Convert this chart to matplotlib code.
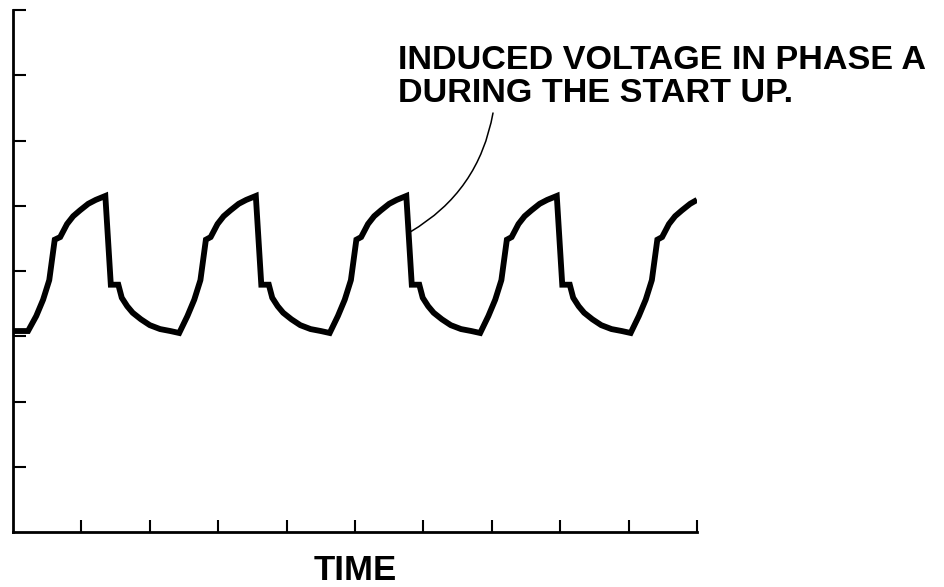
import matplotlib
matplotlib.use("Agg")
import matplotlib.pyplot as plt

# Waveform: induced voltage in phase A (time in tick units, voltage in tick units)
time = [0.00, 0.22, 0.34, 0.44, 0.53, 0.61, 0.69, 0.72, 0.79, 0.88, 0.98, 1.10, 1.21, 1.35,
        1.43, 1.54, 1.56, 1.59, 1.67, 1.75, 1.87, 2.00, 2.15, 2.30, 2.43,
        2.55, 2.65, 2.74, 2.82, 2.89, 2.92, 2.99, 3.08, 3.18, 3.30, 3.41, 3.55,
        3.63, 3.74, 3.76, 3.79, 3.87, 3.95, 4.07, 4.20, 4.35, 4.50, 4.63,
        4.75, 4.85, 4.94, 5.02, 5.09, 5.12, 5.19, 5.28, 5.38, 5.50, 5.61, 5.75,
        5.83, 5.94, 5.96, 5.99, 6.07, 6.15, 6.27, 6.40, 6.55, 6.70, 6.83,
        6.95, 7.05, 7.14, 7.22, 7.29, 7.32, 7.39, 7.48, 7.58, 7.70, 7.81, 7.95,
        8.03, 8.14, 8.16, 8.19, 8.27, 8.35, 8.47, 8.60, 8.75, 8.90, 9.03,
        9.15, 9.25, 9.34, 9.42, 9.49, 9.52, 9.59, 9.68, 9.78, 9.90, 10.00]
voltage = [3.08, 3.08, 3.31, 3.56, 3.86, 4.48, 4.52, 4.58, 4.72, 4.84, 4.93, 5.03, 5.09, 5.15,
           3.79, 3.79, 3.71, 3.59, 3.46, 3.36, 3.26, 3.17, 3.11, 3.08, 3.05,
           3.31, 3.56, 3.86, 4.48, 4.52, 4.58, 4.72, 4.84, 4.93, 5.03, 5.09, 5.15,
           3.79, 3.79, 3.71, 3.59, 3.46, 3.36, 3.26, 3.17, 3.11, 3.08, 3.05,
           3.31, 3.56, 3.86, 4.48, 4.52, 4.58, 4.72, 4.84, 4.93, 5.03, 5.09, 5.15,
           3.79, 3.79, 3.71, 3.59, 3.46, 3.36, 3.26, 3.17, 3.11, 3.08, 3.05,
           3.31, 3.56, 3.86, 4.48, 4.52, 4.58, 4.72, 4.84, 4.93, 5.03, 5.09, 5.15,
           3.79, 3.79, 3.71, 3.59, 3.46, 3.36, 3.26, 3.17, 3.11, 3.08, 3.05,
           3.31, 3.56, 3.86, 4.48, 4.52, 4.58, 4.72, 4.84, 4.93, 5.03, 5.09]

x_ticks = [1, 2, 3, 4, 5, 6, 7, 8, 9, 10]
y_ticks = [1, 2, 3, 4, 5, 6, 7, 8]
annotation_text = "INDUCED VOLTAGE IN PHASE A\nDURING THE START UP."
annotation_point = (5.81, 4.60)
x_label = "TIME"

W, H = 945, 587
fig = plt.figure(figsize=(W / 100, H / 100), dpi=100)
ax = fig.add_axes([13 / W, (H - 532) / H, 684 / W, 522 / H])

ax.plot(time, voltage, color="black", lw=4.2, solid_joinstyle="miter",
        solid_capstyle="butt")

ax.set_xlim(0, 10)
ax.set_ylim(0, 8)
ax.set_xticks(x_ticks)
ax.set_yticks(y_ticks)
ax.set_xticklabels([])
ax.set_yticklabels([])
ax.tick_params(direction="in", length=9, width=1.5, color="black")
for s in ["top", "right"]:
    ax.spines[s].set_visible(False)
for s in ["left", "bottom"]:
    ax.spines[s].set_linewidth(2.0)
    ax.spines[s].set_capstyle("projecting")
ax.set_facecolor("white")
ax.patch.set_alpha(0)

font = dict(family=["Liberation Sans", "DejaVu Sans"], weight="bold")

fig.text(398 / W, (H - 102) / H, annotation_text, fontsize=24.6, ha="left",
         va="baseline", linespacing=1.1, **font)

ax.annotate("", xy=annotation_point, xycoords="data",
            xytext=(493, H - 113), textcoords="figure pixels",
            arrowprops=dict(arrowstyle="-", color="black", lw=1.1,
                            shrinkA=0, shrinkB=0,
                            connectionstyle="arc3,rad=-0.23"),
            annotation_clip=False)

fig.text(355 / W, (H - 580) / H, x_label, fontsize=25, ha="center",
         va="baseline", **font)

fig.savefig("out.png", dpi=100, facecolor="white")
